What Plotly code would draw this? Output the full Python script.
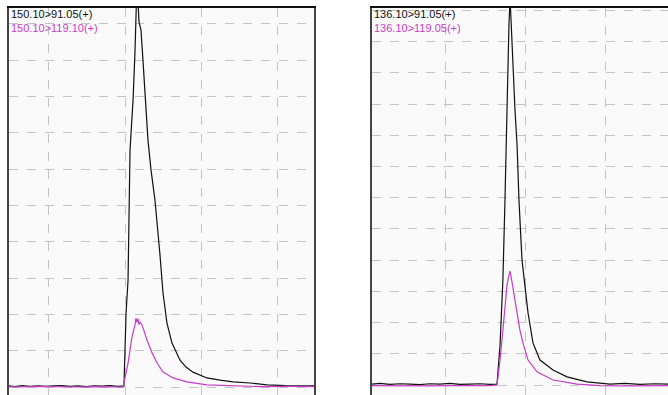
import plotly.graph_objects as go

# ---- Left panel (150.10 precursor) ----
left_labels = ["150.10>91.05(+)", "150.10>119.10(+)"]
left_black_t = [1.737,1.776,1.822,1.875,1.928,1.980,2.033,2.086,2.138,2.191,2.243,2.296,2.349,2.401,2.454,2.480,
                2.493,2.507,2.520,2.533,2.553,2.566,2.579,2.592,2.605,2.618,2.632,2.651,2.671,2.697,2.730,2.750,
                2.776,2.809,2.862,2.901,2.947,2.993,3.039,3.125,3.211,3.322,3.434,3.553,3.651,3.743]
left_black_i = [0.3,0.1,0.4,0.2,0.35,0.15,0.3,0.4,0.2,0.3,0.1,0.35,0.25,0.4,0.2,0.3,
                0.3,20.4,29.5,65.3,79.1,92.8,112.0,100.6,98.4,90.1,79.1,68.0,59.8,51.5,36.4,25.9,
                17.6,12.1,7.4,5.5,4.1,3.3,2.5,1.9,1.4,1.1,0.6,0.4,0.3,0.3]
left_pink_t = [1.737,1.809,1.908,2.007,2.105,2.204,2.303,2.401,2.487,2.500,2.520,2.546,2.566,2.572,2.579,
               2.586,2.592,2.599,2.612,2.645,2.678,2.711,2.750,2.816,2.908,3.039,3.211,3.388,3.586,3.743]
left_pink_i = [0.1,0.0,0.15,0.05,0.1,0.0,0.1,0.05,0.0,2.5,6.6,13.8,17.1,19.0,17.8,
               18.8,17.2,17.9,17.1,12.9,9.4,6.6,4.1,2.5,1.4,0.6,0.3,0.1,0.15,0.1]

# ---- Right panel (136.10 precursor) ----
right_labels = ["136.10>91.05(+)", "136.10>119.05(+)"]
right_black_t = [1.535,1.585,1.648,1.711,1.774,1.836,1.899,1.962,2.025,2.088,2.151,2.214,2.277,2.321,2.340,
                 2.352,2.358,2.371,2.377,2.384,2.390,2.396,2.403,2.409,2.415,2.421,2.434,2.447,2.459,2.478,
                 2.491,2.503,2.516,2.547,2.591,2.673,2.761,2.887,3.031,3.126,3.220,3.314,3.396]
right_black_i = [0.3,0.5,0.2,0.4,0.3,0.1,0.4,0.3,0.5,0.2,0.3,0.4,0.2,0.3,12.8,
                 27.2,33.7,59.3,75.3,91.3,104.2,115.4,124.0,117.0,107.4,99.4,88.1,76.9,59.3,40.1,
                 33.7,28.8,23.1,13.5,8.0,4.8,2.6,1.0,0.3,0.5,0.2,0.4,0.3]
right_pink_t = [1.535,1.648,1.774,1.899,2.025,2.151,2.277,2.321,2.340,2.358,2.371,2.384,2.390,2.396,2.403,
                2.409,2.415,2.421,2.434,2.447,2.465,2.484,2.516,2.572,2.673,2.824,2.969,3.157,3.396]
right_pink_i = [-0.2,-0.3,-0.2,-0.3,-0.2,-0.3,-0.2,0.0,8.0,17.6,25.6,32.1,33.7,35.6,36.5,
                34.9,33.0,30.4,26.3,23.1,17.6,13.5,8.0,4.2,1.6,0.3,-0.2,-0.3,-0.2]

BLACK = "#111111"
PINK = "#c83cc8"
W, H = 668, 395

fig = go.Figure()
fig.add_trace(go.Scatter(x=left_black_t, y=left_black_i, mode="lines",
                         line=dict(color=BLACK, width=1.2), xaxis="x", yaxis="y"))
fig.add_trace(go.Scatter(x=left_pink_t, y=left_pink_i, mode="lines",
                         line=dict(color=PINK, width=1.2), xaxis="x", yaxis="y"))
fig.add_trace(go.Scatter(x=right_black_t, y=right_black_i, mode="lines",
                         line=dict(color=BLACK, width=1.2), xaxis="x2", yaxis="y2"))
fig.add_trace(go.Scatter(x=right_pink_t, y=right_pink_i, mode="lines",
                         line=dict(color=PINK, width=1.2), xaxis="x2", yaxis="y2"))

grid = dict(showgrid=True, gridcolor="#c4c4c4", griddash="dash", gridwidth=1,
            zeroline=False, showticklabels=False, ticks="", fixedrange=True)
ydom = [0, (H - 8) / H]

fig.update_layout(
    width=W, height=H,
    margin=dict(l=0, r=0, t=0, b=0),
    paper_bgcolor="white",
    plot_bgcolor="#fafafa",
    showlegend=False,
    xaxis=dict(domain=[9 / W, 314 / W], range=[1.737, 3.743], tick0=2.0, dtick=0.5,
               side="top", showline=True, linecolor="#111111", linewidth=1.5, anchor="y", **grid),
    yaxis=dict(domain=ydom, range=[-2.2, 104.4], tick0=0, dtick=10,
               showline=True, mirror=True, linecolor="#444444", linewidth=2, anchor="x", **grid),
    xaxis2=dict(domain=[372 / W, 1.0], range=[1.535, 3.396], tick0=2.0, dtick=0.5,
                side="top", showline=True, linecolor="#111111", linewidth=1.5, anchor="y2", **grid),
    yaxis2=dict(domain=ydom, range=[-3.2, 120.8], tick0=0, dtick=10,
                showline=True, mirror=False, linecolor="#444444", linewidth=2, anchor="x2", **grid),
)

font_family = "Liberation Sans, Arial, sans-serif"
for x0, labels in ((10, left_labels), (373, right_labels)):
    txt = (f"<span style='color:{BLACK}'>{labels[0]}</span><br>"
           f"<span style='color:{PINK}'>{labels[1]}</span>")
    fig.add_annotation(x=x0 / W, y=1 - 7 / H, xref="paper", yref="paper",
                       xanchor="left", yanchor="top", align="left", showarrow=False, text=txt,
                       font=dict(family=font_family, size=11, color=BLACK), borderpad=0)

fig.write_html("out.html")
